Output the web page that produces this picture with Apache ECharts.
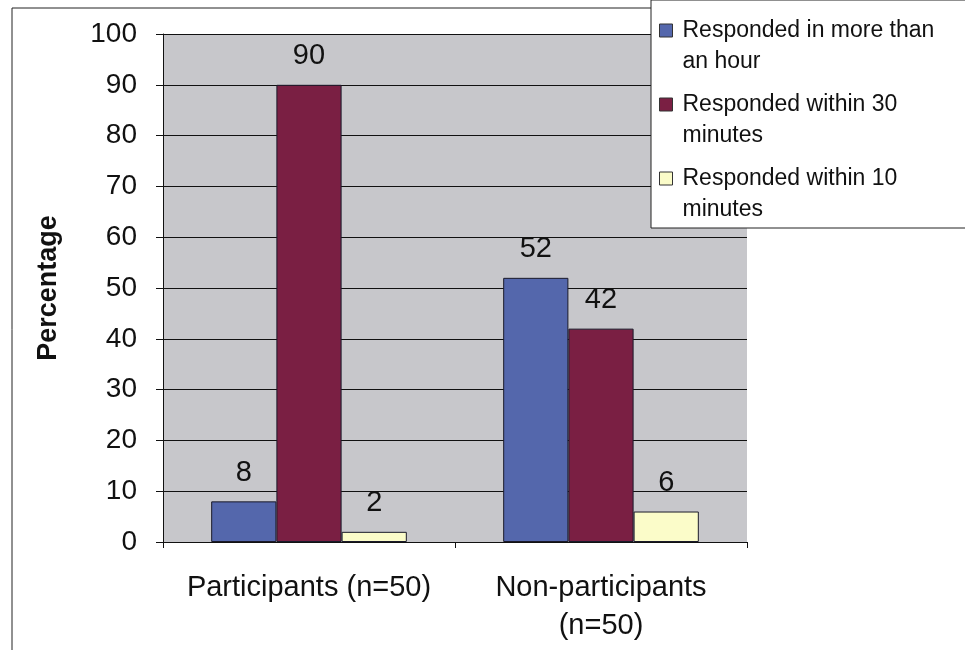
<!DOCTYPE html>
<html><head><meta charset="utf-8">
<script src="https://cdn.jsdelivr.net/npm/echarts@6/dist/echarts.min.js"></script>
<style>html,body{margin:0;padding:0;background:#fff}#c{width:965px;height:650px}</style>
</head><body><div id="c"></div>
<script>
const categories = ['Participants (n=50)', 'Non-participants\n(n=50)'];
const seriesNames = ['Responded in more than an hour', 'Responded within 30 minutes', 'Responded within 10 minutes'];
const moreThanHour = [8, 52];
const within30 = [90, 42];
const within10 = [2, 6];
const yTicks = [0, 10, 20, 30, 40, 50, 60, 70, 80, 90, 100];
const legendWrapped = {
  'Responded in more than an hour': 'Responded in more than\nan hour',
  'Responded within 30 minutes': 'Responded within 30\nminutes',
  'Responded within 10 minutes': 'Responded within 10\nminutes'
};
const colors = ['#5467ac', '#7a1f43', '#fbfcc9'];
const values = [moreThanHour, within30, within10];

const chart = echarts.init(document.getElementById('c'));
const font = 'Liberation Sans, Arial, sans-serif';
chart.setOption({
  animation: false,
  textStyle: { fontFamily: font },
  graphic: [{
    type: 'rect', z: 0, silent: true,
    shape: { x: 12, y: 8, width: 1000, height: 700 },
    style: { fill: 'none', stroke: '#222', lineWidth: 1 }
  }],
  grid: { left: 163, right: 218, top: 34, bottom: 108, show: true, backgroundColor: '#c7c7cb', borderWidth: 0 },
  legend: {
    orient: 'vertical', left: 651, top: 0, z: 10,
    backgroundColor: '#fff', borderColor: '#222', borderWidth: 1,
    padding: [15, 40, 3, 8],
    itemWidth: 18, itemHeight: 44, itemGap: 12,
    icon: 'path://M0,0H13V13H0Z M18,44L18,44',
    itemStyle: { borderColor: '#333', borderWidth: 1 },
    formatter: n => legendWrapped[n] || n,
    textStyle: { fontSize: 23, lineHeight: 31, color: '#111' },
    data: seriesNames
  },
  xAxis: {
    type: 'category', data: categories,
    axisLine: { lineStyle: { color: '#111', width: 1 } },
    axisTick: { show: true, length: 6, alignWithLabel: false, lineStyle: { color: '#111' } },
    axisLabel: { fontSize: 29, color: '#111', margin: 27, lineHeight: 38, interval: 0 }
  },
  yAxis: {
    type: 'value', min: 0, max: 100, interval: 10,
    name: 'Percentage', nameLocation: 'middle', nameGap: 101,
    nameTextStyle: { fontSize: 27, fontWeight: 'bold', color: '#111' },
    axisLine: { show: true, lineStyle: { color: '#111', width: 1 } },
    axisTick: { show: true, length: 7, lineStyle: { color: '#111' } },
    axisLabel: { fontSize: 28, color: '#111', margin: 26, formatter: v => yTicks.includes(v) ? String(v) : '' },
    splitLine: { show: true, lineStyle: { color: '#111', width: 1 } }
  },
  series: seriesNames.map((name, i) => ({
    name, type: 'bar', data: values[i],
    barGap: '0%', barCategoryGap: '33%',
    itemStyle: { color: colors[i], borderColor: '#1a1a2a', borderWidth: 1 },
    label: { show: true, position: 'top', distance: 14, fontSize: 29, color: '#111' }
  }))
});
</script></body></html>
